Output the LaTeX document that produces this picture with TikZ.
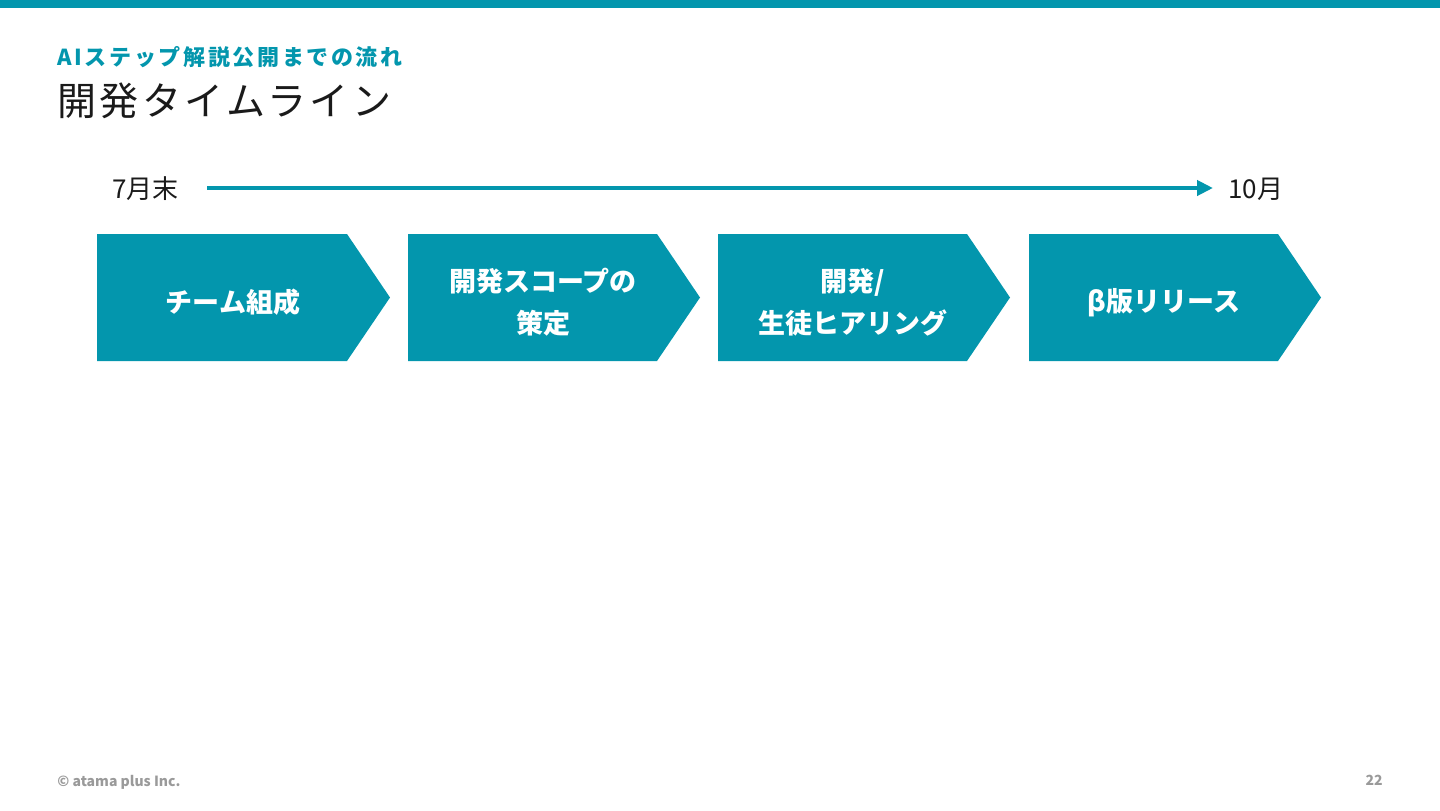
\documentclass[tikz,border=0pt]{standalone}
\usepackage{fontspec}
\setmainfont{Noto Sans CJK JP}
\newfontfamily\subfont[LetterSpace=12]{Noto Sans CJK JP}
\newfontfamily\titlefont[LetterSpace=9]{Noto Sans CJK JP}
\usetikzlibrary{arrows.meta}
\definecolor{teal1}{HTML}{0396AD}
\definecolor{gray1}{HTML}{9A9A9A}
\definecolor{ink}{HTML}{1A1A1A}
\tikzset{
  chev/.style={fill=teal1,draw=none},
  chevtext/.style={align=center,text=white,inner sep=0pt,font=\bfseries\fontsize{13.5}{21}\selectfont},
  datelbl/.style={anchor=west,inner sep=0pt,text=ink,font=\fontsize{13}{15}\selectfont},
  footer/.style={inner sep=0pt,text=gray1,font=\bfseries\fontsize{7}{8}\selectfont},
  timeline/.style={draw=teal1,line width=2pt,-{Triangle[length=8pt,width=7.5pt]}}
}
\begin{document}
\begin{tikzpicture}[x=0.5pt,y=-0.5pt]
\useasboundingbox (0,0) rectangle (1440,810);
\fill[teal1] (0,0) rectangle (1440,8);
% titles
\node[anchor=base west,inner sep=0pt,text=teal1,font=\subfont\bfseries\fontsize{11}{12}\selectfont] (sub) at (57,65) {AIステップ解説公開までの流れ};
\node[anchor=base west,inner sep=0pt,text=ink,font=\titlefont\fontsize{19.5}{22}\selectfont] (title) at (57,115) {開発タイムライン};
% timeline
\node[datelbl] (d7) at (112,189) {7月末};
\node[datelbl] (d10) at (1228,189) {10月};
\coordinate (tls) at (207,188);
\coordinate (tle) at (1213,188);
\draw[timeline] (tls) -- (tle);
% chevrons
\fill[chev] (97,234) -- (347,234) -- (390,297.5) -- (347,361) -- (97,361) -- cycle;
\fill[chev] (408,234) -- (657,234) -- (700,297.5) -- (657,361) -- (408,361) -- cycle;
\fill[chev] (718,234) -- (967,234) -- (1010,297.5) -- (967,361) -- (718,361) -- cycle;
\fill[chev] (1029,234) -- (1278,234) -- (1321,297.5) -- (1278,361) -- (1029,361) -- cycle;
\node[chevtext] (s1) at (233,302.5) {チーム組成};
\node[chevtext] (s2) at (543,302.5) {開発スコープの\\策定};
\node[chevtext] (s3) at (853,302.5) {開発/\\生徒ヒアリング};
\node[chevtext] (s4) at (1164,302.5) {β版リリース};
% footer
\node[footer,anchor=base west] (copy) at (57,786) {© atama plus Inc.};
\node[footer,anchor=base east] (page) at (1383,785) {22};
\end{tikzpicture}
\end{document}
